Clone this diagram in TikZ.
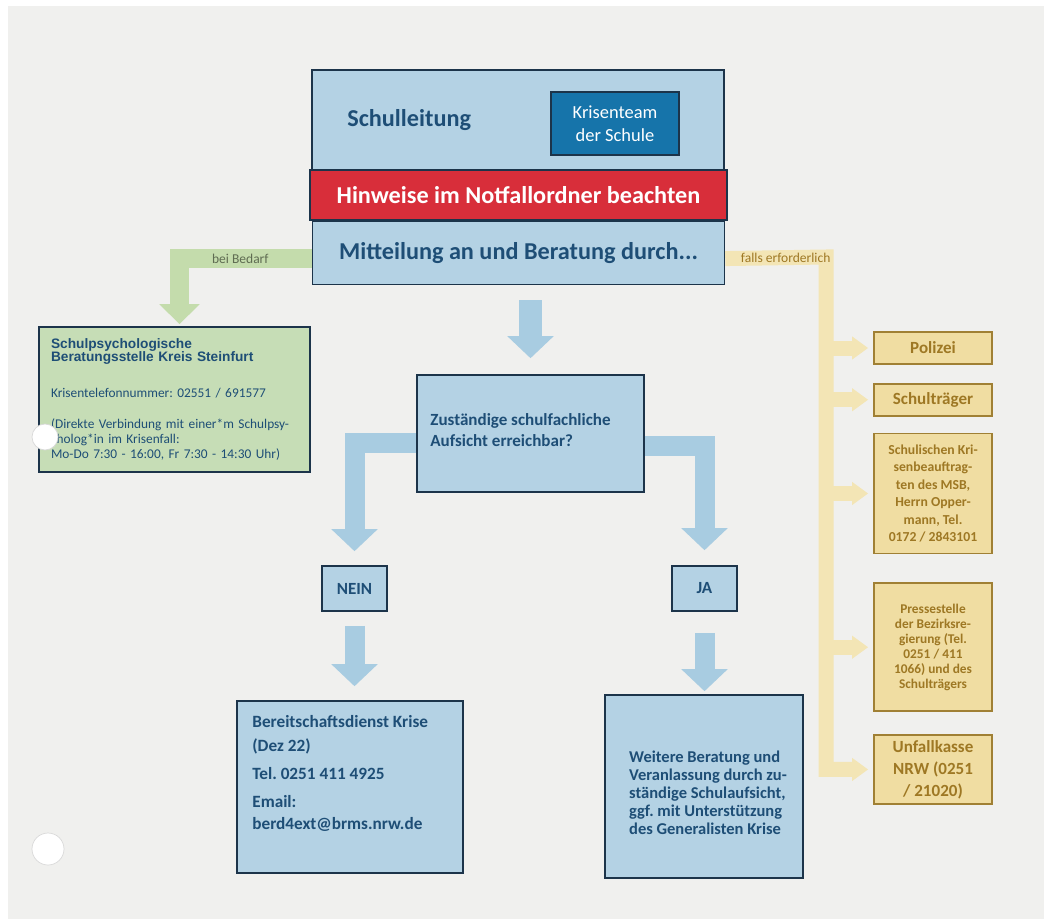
\documentclass[tikz,border=0pt]{standalone}
\usepackage{fontspec}
\setmainfont{Carlito}
\newfontfamily\arialfont{Liberation Sans}
\usetikzlibrary{arrows.meta, positioning, calc}
\frenchspacing
\definecolor{paper}{RGB}{240,240,238}
\definecolor{boxblue}{RGB}{180,210,228}
\definecolor{arrowblue}{RGB}{168,204,225}
\definecolor{darkline}{RGB}{28,52,74}
\definecolor{textblue}{RGB}{30,78,118}
\definecolor{teamblue}{RGB}{22,116,170}
\definecolor{alertred}{RGB}{216,46,58}
\definecolor{boxgreen}{RGB}{198,221,182}
\definecolor{bandgreen}{RGB}{196,220,172}
\definecolor{labelgreen}{RGB}{95,108,82}
\definecolor{boxyellow}{RGB}{240,221,162}
\definecolor{bandyellow}{RGB}{243,229,181}
\definecolor{lineyellow}{RGB}{160,128,52}
\definecolor{textyellow}{RGB}{158,120,36}
\tikzstyle{fatarrow} = [line width=0.4cm, line join=miter, draw=arrowblue, -{Triangle[width=0.9cm, length=0.44cm]}]

\begin{document}
\begin{tikzpicture}[x=0.02cm, y=-0.02cm, every node/.style={align=center, text=textblue}]
    % Define styles
    \tikzset{
        box/.style={rectangle, draw=darkline, line width=0.9pt, fill=boxblue, inner sep=0pt},
        ybox/.style={rectangle, draw=lineyellow, line width=1pt, fill=boxyellow, text=textyellow, minimum width=2.36cm, inner sep=0pt},
        bigtext/.style={font=\fontsize{13.8}{16}\selectfont\bfseries},
        midtext/.style={font=\fontsize{9.7}{12}\selectfont\bfseries},
        bandlabel/.style={font=\fontsize{7.7}{9}\selectfont, inner sep=0pt},
        greenarrow/.style={line width=0.38cm, line join=miter, draw=bandgreen, -{Triangle[width=0.78cm, length=0.4cm]}},
        ylwarrow/.style={line width=0.3cm, line join=miter, draw=bandyellow, -{Triangle[width=0.44cm, length=0.32cm]}}
    }

    % --- PAPER ---
    \useasboundingbox (0,0) rectangle (1044,919);
    \fill[paper] (0,0) rectangle (1044,919);
    \fill[white] (0,0) rectangle (1044,6);
    \fill[white] (0,0) rectangle (8,919);

    % --- SCHULLEITUNG BLOCK ---
    \node (sl) [box, minimum width=8.24cm, minimum height=2cm] at (518,120) {};
    \node (slt) [bigtext, anchor=west, inner sep=0pt] at (347,120) {Schulleitung};
    \node (kt) [box, fill=teamblue, text=white, minimum width=2.56cm, minimum height=1.26cm, font=\fontsize{10.5}{13}\selectfont] at (615,123.5) {Krisenteam\\der Schule};
    \node (hw) [box, fill=alertred, text=white, bigtext, minimum width=8.34cm, minimum height=1cm] at (518.5,195) {Hinweise im Notfallordner beachten};
    \node (mt) [box, bigtext, minimum width=8.24cm, minimum height=1.26cm, below=0cm of hw] {Mitteilung an und Beratung durch...};

    % --- SCHULPSYCHOLOGIE (GREEN) ---
    \node (psy) [box, fill=boxgreen, text width=4.94cm, inner xsep=0.24cm, minimum width=5.42cm, minimum height=2.9cm, align=left, font=\fontsize{7.6}{8.6}\selectfont] at (174.5,399.5)
        {{\arialfont\bfseries\fontsize{7.8}{7.6}\selectfont Schulpsychologische\\Beratungsstelle Kreis Steinfurt\par}\vspace{12pt}
         Krisentelefonnummer: 02551 / 691577\\[9pt]
         (Direkte Verbindung mit einer*m Schulpsy-\\cholog*in im Krisenfall:\\Mo-Do 7:30 - 16:00, Fr 7:30 - 14:30 Uhr)};

    % --- ENTSCHEIDUNG ---
    \node (zq) [box, minimum width=4.54cm, minimum height=2.34cm] at (530.5,433.5) {};
    \node (zqt) [midtext, align=left, anchor=west, inner sep=0pt] at (430,430) {Zuständige schulfachliche\\Aufsicht erreichbar?};
    \node (nein) [box, midtext, minimum width=1.3cm, minimum height=0.9cm] at (354.5,588.5) {NEIN};
    \node (ja) [box, midtext, minimum width=1.3cm, minimum height=0.9cm] at (704.5,588.5) {JA};

    % Bereitschaftsdienst
    \node (bd) [box, minimum width=4.52cm, minimum height=3.44cm] at (350,787) {};
    \node (bdt) [align=left, anchor=north west, font=\fontsize{9.8}{12.5}\selectfont\bfseries, inner sep=0pt] at (252,715)
        {Bereitschaftsdienst Krise\\[1.2pt](Dez 22)\\[3.5pt]Tel. 0251 411 4925\\[3.5pt]Email:\\berd4ext@brms.nrw.de};

    % Weitere Beratung
    \node (wb) [box, minimum width=3.96cm, minimum height=3.66cm] at (704,786.5) {};
    \node (wbt) [align=left, font=\fontsize{9.4}{10.3}\selectfont\bfseries, inner sep=0pt] at (708,793)
        {Weitere Beratung und\\Veranlassung durch zu-\\ständige Schulaufsicht,\\ggf. mit Unterstützung\\des Generalisten Krise};

    % --- EXTERNE STELLEN (YELLOW) ---
    \node (pol) [ybox, minimum height=0.64cm, font=\fontsize{9.7}{12}\selectfont\bfseries] at (933,348) {Polizei};
    \node (st) [ybox, minimum height=0.64cm, font=\fontsize{9.7}{12}\selectfont\bfseries, below=0.36cm of pol] {Schulträger};
    \node (kb) [ybox, minimum height=2.4cm, font=\fontsize{7.8}{9.9}\selectfont\bfseries, below=0.32cm of st] {Schulischen Kri-\\senbeauftrag-\\ten des MSB,\\Herrn Opper-\\mann, Tel.\\0172 / 2843101};
    \node (ps) [ybox, minimum height=2.56cm, font=\fontsize{7.6}{8.6}\selectfont\bfseries, below=0.56cm of kb] {Pressestelle\\der Bezirksre-\\gierung (Tel.\\0251 / 411\\1066) und des\\Schulträgers};
    \node (uk) [ybox, minimum height=1.38cm, font=\fontsize{9.7}{12.5}\selectfont\bfseries, below=0.44cm of ps] {Unfallkasse\\NRW (0251\\/ 21020)};

    % Connections
    \draw[fatarrow, line width=0.46cm, shorten <=0.3cm, shorten >=0.32cm] (mt.south -| zq.north) -- (zq.north);
    \draw[fatarrow, shorten >=0.28cm] ($(zq.west)+(0,9)$) -| (nein.north);
    \draw[fatarrow, shorten >=0.3cm] ($(zq.east)+(0,12)$) -| (ja.north);
    \draw[fatarrow, shorten <=0.28cm, shorten >=0.28cm] (nein.south) -- (nein.south |- bd.north);
    \draw[fatarrow, shorten <=0.42cm, shorten >=0.06cm] (ja.south) -- (ja.south |- wb.north);

    \draw[greenarrow, shorten >=0.04cm] ($(mt.west)+(0,5.5)$) -| node[pos=0.27, bandlabel, text=labelgreen]{bei Bedarf} ($(psy.north)+(5,0)$);

    \coordinate (trunk) at (826,257);
    \draw[ylwarrow, shorten >=0.1cm] ($(mt.east)+(0,5.5)$) -- node[pos=0.6, bandlabel, text=textyellow]{falls erforderlich} (trunk) -- (trunk |- uk.west) -- (uk.west);
    \foreach \b in {pol, st, kb, ps}
        \draw[ylwarrow, shorten >=0.1cm] (trunk |- \b.west) -- (\b.west);

    % punch holes
    \fill[white, draw=black!15] (45,437) circle (13);
    \fill[white, draw=black!15] (48,849) circle (16);
\end{tikzpicture}
\end{document}
